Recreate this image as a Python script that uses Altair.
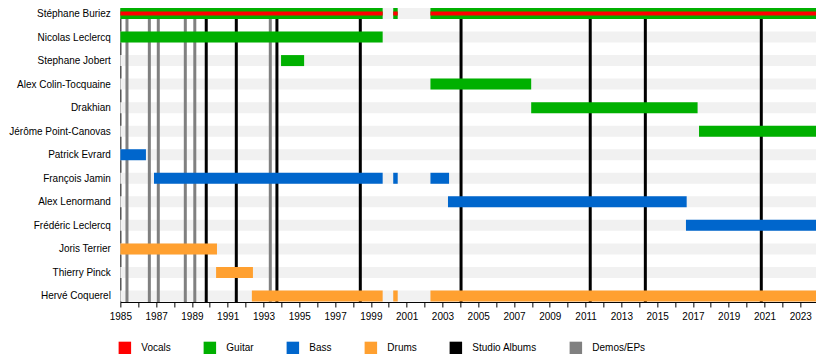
import json
import altair as alt
import pandas as pd

# ---------------- data ----------------
members = [
    "Stéphane Buriez", "Nicolas Leclercq", "Stephane Jobert", "Alex Colin-Tocquaine",
    "Drakhian", "Jérôme Point-Canovas", "Patrick Evrard", "François Jamin",
    "Alex Lenormand", "Frédéric Leclercq", "Joris Terrier", "Thierry Pinck",
    "Hervé Coquerel",
]

roles = ["Vocals", "Guitar", "Bass", "Drums", "Studio Albums", "Demos/EPs"]
role_colors = ["#ff0000", "#00b000", "#0066cc", "#ffa030", "#000000", "#808080"]

START = 1985
END = 2023.88

span_member = [
    "Stéphane Buriez", "Stéphane Buriez", "Stéphane Buriez",
    "Nicolas Leclercq", "Stephane Jobert", "Alex Colin-Tocquaine", "Drakhian",
    "Jérôme Point-Canovas",
    "Patrick Evrard", "François Jamin", "François Jamin", "François Jamin",
    "Alex Lenormand", "Frédéric Leclercq",
    "Joris Terrier", "Thierry Pinck",
    "Hervé Coquerel", "Hervé Coquerel", "Hervé Coquerel",
]
span_role = [
    "Guitar", "Guitar", "Guitar",
    "Guitar", "Guitar", "Guitar", "Guitar", "Guitar",
    "Bass", "Bass", "Bass", "Bass", "Bass", "Bass",
    "Drums", "Drums",
    "Drums", "Drums", "Drums",
]
span_start = [
    1985.0, 2000.25, 2002.33,
    1985.0, 1993.98, 2002.33, 2007.96, 2017.34,
    1985.0, 1986.88, 2000.25, 2002.33, 2003.31, 2016.61,
    1985.0, 1990.35,
    1992.35, 2000.25, 2002.33,
]
span_end = [
    1999.66, 2000.50, END,
    1999.66, 1995.27, 2007.96, 2017.26, END,
    1986.43, 1999.66, 2000.50, 2003.37, 2016.65, END,
    1990.40, 1992.41,
    1999.66, 2000.50, END,
]

vocal_member = ["Stéphane Buriez", "Stéphane Buriez", "Stéphane Buriez"]
vocal_start = [1985.0, 2000.25, 2002.33]
vocal_end = [1999.66, 2000.50, END]

album_years = [1989.80, 1991.48, 1993.75, 1998.41, 2004.04, 2011.26, 2014.34, 2020.82]
demo_years = [1985.37, 1986.62, 1987.12, 1988.63, 1989.16, 1993.38]

tick_years = list(range(1985, 2024))

# ---------------- tables ----------------
spans = pd.DataFrame({
    "member": span_member, "role": span_role, "xa": span_start, "xb": span_end,
})
spans["row"] = [members.index(m) for m in spans["member"]]

vocals = pd.DataFrame({
    "member": vocal_member, "xa": vocal_start, "xb": vocal_end,
})
vocals["role"] = "Vocals"
vocals["row"] = [members.index(m) for m in vocals["member"]]

stripes = pd.DataFrame({"row": list(range(len(members)))})
stripes["xa"] = START
stripes["xb"] = END

lines = pd.DataFrame({
    "year": album_years + demo_years,
    "role": ["Studio Albums"] * len(album_years) + ["Demos/EPs"] * len(demo_years),
})

# ---------------- layout ----------------
W = 695.7
H = 294
Y_LO, Y_HI = -0.2336, 12.256
HALF = 0.2336      # half bar thickness in row units (~11px)
HALF_V = 0.085     # half vocal stripe thickness (~4px)
HALF_L = 0.084     # half line width in years (~3px)

FONT = "Liberation Sans"

x_scale = alt.Scale(domain=[START, END], nice=False, zero=False)
y_scale = alt.Scale(domain=[Y_LO, Y_HI], reverse=True, nice=False, zero=False)
color_scale = alt.Scale(domain=roles, range=role_colors)

x_axis = alt.Axis(
    title=None, values=tick_years, format="d",
    labelExpr="datum.value % 2 == 1 ? datum.label : ''",
    labelOverlap=False, grid=False, tickSize=5, tickColor="black",
    domainColor="black", labelColor="black", labelFontSize=10,
    labelPadding=5, labelFont=FONT, labelFlush=False,
)
y_axis = alt.Axis(
    title=None, values=list(range(len(members))),
    labelExpr=json.dumps(members, ensure_ascii=False) + "[datum.value]",
    labelOverlap=False, grid=False, ticks=False, tickSize=0,
    domainColor="black", labelColor="black", labelFontSize=10,
    labelPadding=10, labelFont=FONT, labelFlush=False,
)
legend = alt.Legend(
    title=None, orient="none", legendX=-2, legendY=333.3, direction="horizontal",
    symbolType="square", symbolSize=156, symbolStrokeWidth=0, symbolOpacity=1,
    labelFontSize=10, labelFont=FONT, labelColor="black", labelOffset=10,
    columnPadding=32, padding=0,
)

X = alt.X("xa:Q", scale=x_scale, axis=x_axis)
X2 = alt.X2("xb:Q")
Y = alt.Y("ya:Q", scale=y_scale, axis=y_axis)
Y2 = alt.Y2("yb:Q")
C = alt.Color("role:N", scale=color_scale, legend=legend)

stripe_layer = alt.Chart(stripes).mark_rect(color="#f1f1f1").transform_calculate(
    ya=f"datum.row - {HALF}", yb=f"datum.row + {HALF}"
).encode(x=X, x2=X2, y=Y, y2=Y2)

line_layer = alt.Chart(lines).mark_rect().transform_calculate(
    xa=f"datum.year - {HALF_L}", xb=f"datum.year + {HALF_L}"
).encode(x=X, x2=X2, color=C)

bar_layer = alt.Chart(spans).mark_rect().transform_calculate(
    ya=f"datum.row - {HALF}", yb=f"datum.row + {HALF}"
).encode(x=X, x2=X2, y=Y, y2=Y2, color=C)

vocal_layer = alt.Chart(vocals).mark_rect().transform_calculate(
    ya=f"datum.row - {HALF_V}", yb=f"datum.row + {HALF_V}"
).encode(x=X, x2=X2, y=Y, y2=Y2, color=C)

chart = alt.layer(stripe_layer, line_layer, bar_layer, vocal_layer).properties(
    width=W, height=H,
    autosize=alt.AutoSizeParams(type="none"),
    padding={"left": 112.36, "top": 0, "right": 0, "bottom": 52},
    background="white",
).configure_view(stroke=None)

chart.save("out.html", embed_options={"renderer": "svg", "actions": False})
